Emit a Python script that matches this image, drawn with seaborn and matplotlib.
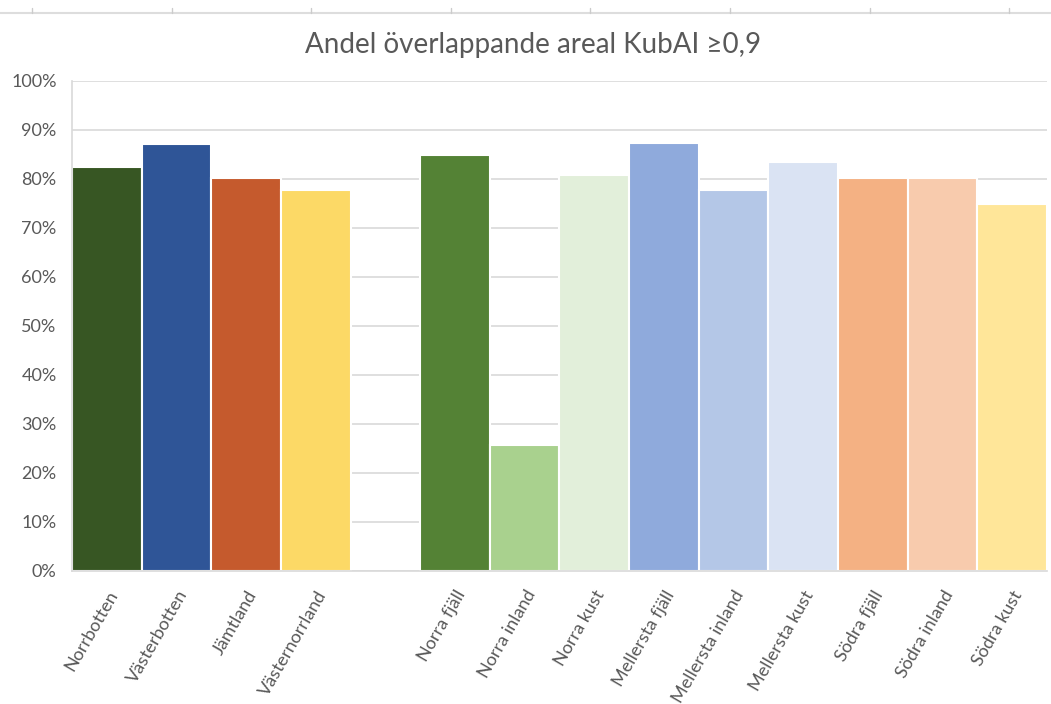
import matplotlib
matplotlib.use("Agg")
import matplotlib.pyplot as plt
import seaborn as sns
import pandas as pd
from matplotlib.lines import Line2D
from matplotlib.ticker import MultipleLocator, FuncFormatter

# ---- data ----
categories = ["Norrbotten", "Västerbotten", "Jämtland", "Västernorrland",
              "Norra fjäll", "Norra inland", "Norra kust",
              "Mellersta fjäll", "Mellersta inland", "Mellersta kust",
              "Södra fjäll", "Södra inland", "Södra kust"]
values = [82.4, 87.2, 80.1, 77.7,
          84.9, 25.7, 80.8,
          87.4, 77.8, 83.5,
          80.1, 80.1, 74.8]
colors = ["#375623", "#2F5597", "#C55A2D", "#FCD966",
          "#548235", "#A9D18E", "#E2EFDA",
          "#8FAADC", "#B4C7E7", "#DAE3F3",
          "#F4B183", "#F8CBAD", "#FFE699"]
gap_label = " "
order = categories[:4] + [gap_label] + categories[4:]
title = "Andel överlappande areal KubAI ≥0,9"

sns.set_theme(style="white")
plt.rcParams["font.family"] = ["Lato", "DejaVu Sans"]
text_color = "#595959"
grid_color = "#D9D9D9"

df = pd.DataFrame({"cat": categories, "val": values})
palette = dict(zip(categories, colors))

fig = plt.figure(figsize=(10.51, 7.04), dpi=100)
ax = fig.add_axes([0.0685, 0.189, 0.9275, 0.696])

sns.barplot(data=df, x="cat", y="val", hue="cat", order=order,
            hue_order=categories, palette=palette, dodge=False,
            width=1.0, legend=False, edgecolor="white", linewidth=1.5,
            saturation=1, ax=ax)

ax.set_ylim(0, 100)
ax.set_xlim(-0.5, len(order) - 0.5)
ax.yaxis.set_major_locator(MultipleLocator(10))
ax.yaxis.set_major_formatter(FuncFormatter(lambda v, p: f"{int(round(v))}%"))
ax.grid(axis="y", color=grid_color, linewidth=1.2, zorder=0)
ax.set_axisbelow(True)
for s in ["top", "right"]:
    ax.spines[s].set_visible(False)
ax.spines["left"].set_color(grid_color)
ax.spines["bottom"].set_color(grid_color)
ax.spines["left"].set_linewidth(1.2)
ax.spines["bottom"].set_linewidth(1.2)
ax.set_xlabel("")
ax.set_ylabel("")
ax.tick_params(axis="y", length=0, pad=11, labelsize=13, labelcolor=text_color)
ax.tick_params(axis="x", length=0, pad=12, labelsize=13, labelcolor=text_color)
ax.set_xticks(range(len(order)))
ax.set_xticklabels(order, rotation=60, ha="right", rotation_mode="anchor")

fig.text(0.507, 0.936, title, ha="center", va="center",
         fontsize=20, color=text_color)

# faint top strip (spreadsheet ruler)
fig.add_artist(Line2D([0.0, 1.0], [1 - 13 / 704, 1 - 13 / 704],
                      color="#DDDDDD", linewidth=1.5, transform=fig.transFigure))
for k in range(8):
    xp = (32 + k * 139.6) / 1051
    fig.add_artist(Line2D([xp, xp], [1 - 13 / 704, 1 - 8 / 704],
                          color="#CCCCCC", linewidth=1.0, transform=fig.transFigure))

fig.savefig("out.png", dpi=100, facecolor="white")
